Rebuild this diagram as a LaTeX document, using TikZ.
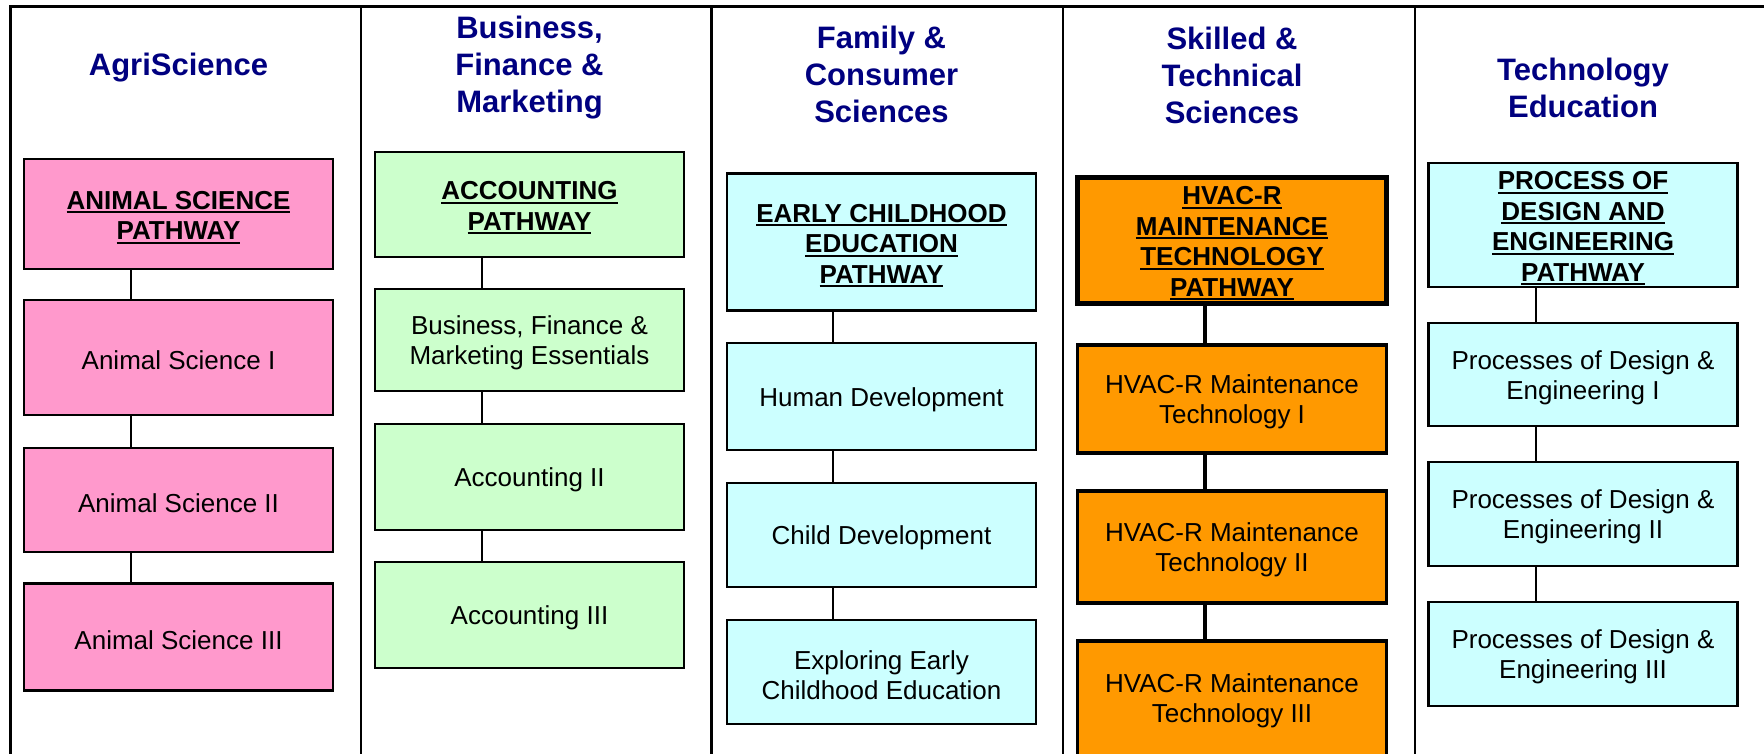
\documentclass[tikz,border=0pt]{standalone}
\usepackage{fontspec}
\setmainfont{Liberation Sans}
\definecolor{pinkc}{HTML}{FF99CC}
\definecolor{greenc}{HTML}{CCFFCC}
\definecolor{cyanc}{HTML}{CCFFFF}
\definecolor{orangec}{HTML}{FF9900}
\definecolor{navyc}{HTML}{000080}
\newcommand\ulx[1]{\setbox0\hbox{#1}\rlap{\rule[-4pt]{\wd0}{2pt}}\box0}
\newcommand\tp{\rule{0pt}{25pt}}
\tikzset{
  box/.style={draw=black, line width=2.5pt, inner sep=0pt, minimum width=309pt,
    align=center, font=\fontsize{26}{30}\selectfont},
  pathbox/.style={box, font=\fontsize{26}{30.5}\selectfont\bfseries},
  obox/.style={box, line width=3.5pt, fill=orangec},
  hdr/.style={text=navyc, align=center, inner sep=0pt, font=\fontsize{31}{37}\selectfont\bfseries},
  conn/.style={line width=2pt},
  oconn/.style={line width=3.5pt},
  rule/.style={line width=2.5pt},
}
\begin{document}
\begin{tikzpicture}[x=1pt,y=-1pt]
\useasboundingbox (0,0) rectangle (1764,753);
\fill[white] (0,0) rectangle (1764,753);
\begin{scope}
\clip (0,0) rectangle (1764,753);
% frame
\coordinate (tl) at (10.5,6.5);
\coordinate (tr) at (1764,6.5);
\coordinate (bl) at (10.5,760);
\draw[rule] (tr) -- (tl) -- (bl);
\foreach \x/\n in {361/d1,711.5/d2,1063/d3,1415/d4}{
  \coordinate (\n t) at (\x,6.5);
  \coordinate (\n b) at (\x,760);
  \draw[rule] (\n t) -- (\n b);
}
% headers
\node[hdr] (h1hdr) at (178.5,67.5) {AgriScience};
\node[hdr] (h2hdr) at (529.5,68) {Business,\\Finance \&\\Marketing};
\node[hdr] (h3hdr) at (881.5,74.5) {Family \&\\Consumer\\Sciences};
\node[hdr] (h4hdr) at (1232,75) {Skilled \&\\Technical\\Sciences};
\node[hdr] (h5hdr) at (1583,88) {Technology\\Education};

% column 1
\node[pathbox, fill=pinkc, minimum height=110pt] (p1) at (178.5,214) {\tp\ulx{ANIMAL SCIENCE}\\\ulx{PATHWAY}};
\node[box, fill=pinkc, minimum height=115pt] (a1) at (178.5,357.5) {\tp Animal Science I};
\node[box, fill=pinkc, minimum height=104pt] (a2) at (178.5,500) {\tp Animal Science II};
\node[box, fill=pinkc, minimum height=107pt] (a3) at (178.5,637) {\tp Animal Science III};
\coordinate (c1) at (131,0);
\draw[conn] (p1.south -| c1) -- (a1.north -| c1);
\draw[conn] (a1.south -| c1) -- (a2.north -| c1);
\draw[conn] (a2.south -| c1) -- (a3.north -| c1);

% column 2
\node[pathbox, fill=greenc, minimum height=105pt] (p2) at (529.5,204.5) {\tp\ulx{ACCOUNTING}\\\ulx{PATHWAY}};
\node[box, fill=greenc, minimum height=102pt] (b1) at (529.5,340) {\tp Business, Finance \&\\Marketing Essentials};
\node[box, fill=greenc, minimum height=106pt] (b2) at (529.5,477) {\tp Accounting II};
\node[box, fill=greenc, minimum height=106pt] (b3) at (529.5,615) {\tp Accounting III};
\coordinate (c2) at (482,0);
\draw[conn] (p2.south -| c2) -- (b1.north -| c2);
\draw[conn] (b1.south -| c2) -- (b2.north -| c2);
\draw[conn] (b2.south -| c2) -- (b3.north -| c2);

% column 3
\node[pathbox, fill=cyanc, minimum height=137pt] (p3) at (881.5,242) {\tp\ulx{EARLY CHILDHOOD}\\\ulx{EDUCATION}\\\ulx{PATHWAY}};
\node[box, fill=cyanc, minimum height=107pt] (f1) at (881.5,396.5) {\tp Human Development};
\node[box, fill=cyanc, minimum height=104pt] (f2) at (881.5,535) {\tp Child Development};
\node[box, fill=cyanc, minimum height=104pt] (f3) at (881.5,672) {\tp Exploring Early\\Childhood Education};
\coordinate (c3) at (832.5,0);
\draw[conn] (p3.south -| c3) -- (f1.north -| c3);
\draw[conn] (f1.south -| c3) -- (f2.north -| c3);
\draw[conn] (f2.south -| c3) -- (f3.north -| c3);

% column 4
\node[pathbox, fill=orangec, line width=5pt, minimum height=126pt] (p4) at (1232,240) {\tp\ulx{HVAC-R}\\\ulx{MAINTENANCE}\\\ulx{TECHNOLOGY}\\\ulx{PATHWAY}};
\node[obox, minimum height=108pt] (o1) at (1232,399) {\tp HVAC-R Maintenance\\Technology I};
\node[obox, minimum height=112pt] (o2) at (1232,547) {\tp HVAC-R Maintenance\\Technology II};
\node[obox, minimum height=130pt, text depth=21.5pt] (o3) at (1232,706) {\tp HVAC-R Maintenance\\Technology III};
\coordinate (c4) at (1205,0);
\draw[oconn] (p4.south -| c4) -- (o1.north -| c4);
\draw[oconn] (o1.south -| c4) -- (o2.north -| c4);
\draw[oconn] (o2.south -| c4) -- (o3.north -| c4);

% column 5
\node[pathbox, fill=cyanc, minimum height=124pt] (p5) at (1583,225) {\tp\ulx{PROCESS OF}\\\ulx{DESIGN AND}\\\ulx{ENGINEERING}\\\ulx{PATHWAY}};
\node[box, fill=cyanc, minimum height=103pt] (t1) at (1583,374.5) {\tp Processes of Design \&\\Engineering I};
\node[box, fill=cyanc, minimum height=104pt] (t2) at (1583,514) {\tp Processes of Design \&\\Engineering II};
\node[box, fill=cyanc, minimum height=104pt] (t3) at (1583,654) {\tp Processes of Design \&\\Engineering III};
\coordinate (c5) at (1536,0);
\draw[conn] (p5.south -| c5) -- (t1.north -| c5);
\draw[conn] (t1.south -| c5) -- (t2.north -| c5);
\draw[conn] (t2.south -| c5) -- (t3.north -| c5);
\end{scope}
\end{tikzpicture}
\end{document}
